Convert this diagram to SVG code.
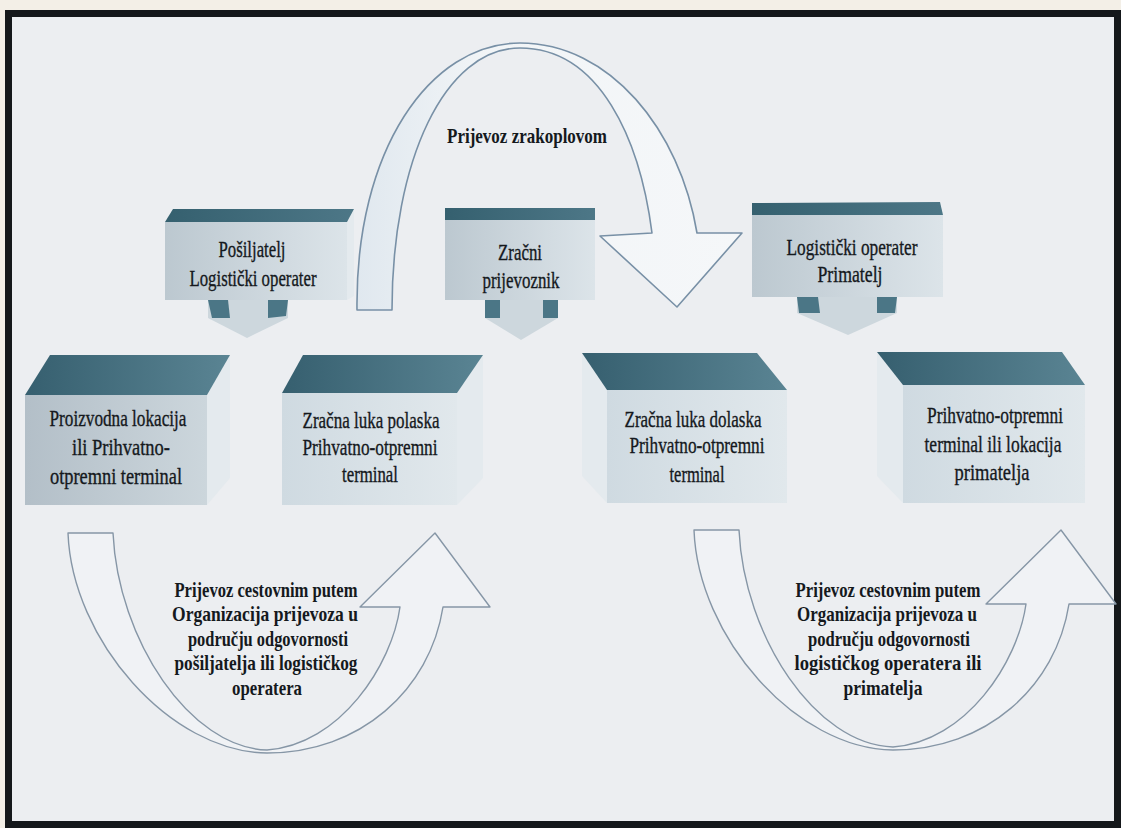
<svg xmlns="http://www.w3.org/2000/svg" width="1121" height="828" viewBox="0 0 1121 828">
<style>
.lbl{font-family:"Liberation Serif","Times New Roman",serif;font-size:23px;fill:#15191d;stroke:#15191d;stroke-width:0.35;text-anchor:middle}
.b{font-weight:bold;font-size:22px;stroke-width:0}
.arch{fill:url(#gArch);stroke:#7890a6;stroke-width:1.6;stroke-linejoin:round}
.uarr{fill:#f0f2f5;stroke:#8696a6;stroke-width:1.4;stroke-linejoin:round}
.topf{fill:url(#gTop)}
.band{fill:url(#gBand)}
.dk{fill:#4b7686}
.lt{fill:#cdd7dd}
.side{fill:#e4eaee}
</style>
<defs>
<linearGradient id="gTop" x1="0" y1="0" x2="1" y2="0">
<stop offset="0" stop-color="#365f6f"/><stop offset="1" stop-color="#5a8493"/>
</linearGradient>
<linearGradient id="gBand" x1="0" y1="0" x2="1" y2="0">
<stop offset="0" stop-color="#35606f"/><stop offset="1" stop-color="#4d7787"/>
</linearGradient>
<linearGradient id="gFrontA" x1="0" y1="0" x2="1" y2="0">
<stop offset="0" stop-color="#b3bfc8"/><stop offset="1" stop-color="#ccd6dc"/>
</linearGradient>
<linearGradient id="gFrontB" x1="0" y1="0" x2="1" y2="0">
<stop offset="0" stop-color="#cfdae1"/><stop offset="1" stop-color="#e1e8ec"/>
</linearGradient>
<linearGradient id="gFrontS" x1="0" y1="0" x2="1" y2="0">
<stop offset="0" stop-color="#bcc8d0"/><stop offset="1" stop-color="#dce4e9"/>
</linearGradient>
<linearGradient id="gArch" x1="0" y1="0" x2="1" y2="0">
<stop offset="0" stop-color="#e0e8ef"/><stop offset="0.35" stop-color="#f2f5f7"/><stop offset="1" stop-color="#f5f7f9"/>
</linearGradient>
<path id="uShape" d="M68,533 L113,533 C118,640 190,748 267,750 C340,745 392,665 400,607 L360,607 L435,533 L490,607 L443,607 C430,690 360,753 267,753 C170,752 72,640 68,533 Z"/>
</defs>

<rect x="0" y="0" width="1121" height="828" fill="#f3efe7"/>
<rect x="8.5" y="13.5" width="1109" height="811" fill="#eceef1" stroke="#15181b" stroke-width="7"/>

<g id="connectors">
<path id="air-arrow" class="arch" d="M357,310 C355,150 430,43 520,43 C610,43 680,130 697,233 L742,233 L677,307 L600,236 L652,233 C640,140 600,48 520,48 C445,48 392,160 392,310 Z"/>
<text class="lbl b" x="527" y="143" textLength="160" lengthAdjust="spacingAndGlyphs">Prijevoz zrakoplovom</text>

<use id="road-arrow-left" href="#uShape" class="uarr"/>
<g class="lbl b">
<text x="266" y="597" textLength="183" lengthAdjust="spacingAndGlyphs">Prijevoz cestovnim putem</text>
<text x="265" y="621" textLength="186" lengthAdjust="spacingAndGlyphs">Organizacija prijevoza u</text>
<text x="268" y="646" textLength="160" lengthAdjust="spacingAndGlyphs">području odgovornosti</text>
<text x="266" y="670" textLength="183" lengthAdjust="spacingAndGlyphs">pošiljatelja ili logističkog</text>
<text x="267" y="695" textLength="70" lengthAdjust="spacingAndGlyphs">operatera</text>
</g>

<use id="road-arrow-right" href="#uShape" class="uarr" transform="translate(626,-3)"/>
<g class="lbl b">
<text x="888" y="597" textLength="185" lengthAdjust="spacingAndGlyphs">Prijevoz cestovnim putem</text>
<text x="887" y="621" textLength="180" lengthAdjust="spacingAndGlyphs">Organizacija prijevoza u</text>
<text x="889" y="646" textLength="162" lengthAdjust="spacingAndGlyphs">području odgovornosti</text>
<text x="888" y="670" textLength="187" lengthAdjust="spacingAndGlyphs">logističkog operatera ili</text>
<text x="883" y="695" textLength="79" lengthAdjust="spacingAndGlyphs">primatelja</text>
</g>
</g>

<g id="node-posiljatelj">
<polygon class="lt" points="208,300 288,300 288,318 247,338 208,318"/>
<polygon class="dk" points="208,300 228,300 230,318 212,318"/>
<polygon class="dk" points="268,300 288,300 286,316 268,318"/>
<polygon class="side" points="347,222 354,210 354,296 347,300"/>
<rect x="165" y="222" width="182" height="78" fill="url(#gFrontS)"/>
<polygon class="band" points="173,209 354,209 347,222 165,222"/>
<text class="lbl" x="252" y="257" textLength="67" lengthAdjust="spacingAndGlyphs">Pošiljatelj</text>
<text class="lbl" x="253" y="286" textLength="127" lengthAdjust="spacingAndGlyphs">Logistički operater</text>
</g>

<g id="node-zracni-prijevoznik">
<polygon class="lt" points="485,300 558,300 558,318 521,340 485,318"/>
<rect class="dk" x="485" y="300" width="15" height="18"/>
<rect class="dk" x="543" y="300" width="15" height="18"/>
<rect x="445" y="220" width="150" height="80" fill="url(#gFrontS)"/>
<rect class="band" x="445" y="208" width="150" height="12"/>
<text class="lbl" x="520" y="260" textLength="44" lengthAdjust="spacingAndGlyphs">Zračni</text>
<text class="lbl" x="521" y="288" textLength="77" lengthAdjust="spacingAndGlyphs">prijevoznik</text>
</g>

<g id="node-primatelj">
<polygon class="lt" points="797,297 897,297 897,313 848,335 797,313"/>
<polygon class="dk" points="797,297 818,297 820,313 799,313"/>
<polygon class="dk" points="877,297 897,297 895,313 877,313"/>
<rect x="752" y="215" width="191" height="82" fill="url(#gFrontS)"/>
<polygon class="band" points="752,203 940,202 943,215 752,215"/>
<text class="lbl" x="852" y="255" textLength="131" lengthAdjust="spacingAndGlyphs">Logistički operater</text>
<text class="lbl" x="850" y="282" textLength="65" lengthAdjust="spacingAndGlyphs">Primatelj</text>
</g>

<g id="node-proizvodna-lokacija">
<polygon class="side" points="207,395 230,355 230,478 207,505"/>
<rect x="25" y="395" width="182" height="110" fill="url(#gFrontA)"/>
<polygon class="topf" points="50,355 230,355 207,395 25,395"/>
<text class="lbl" x="118" y="426" textLength="137" lengthAdjust="spacingAndGlyphs">Proizvodna lokacija</text>
<text class="lbl" x="121" y="455" textLength="98" lengthAdjust="spacingAndGlyphs">ili Prihvatno-</text>
<text class="lbl" x="116" y="484" textLength="132" lengthAdjust="spacingAndGlyphs">otpremni terminal</text>
</g>

<g id="node-zracna-luka-polaska">
<polygon class="side" points="457,393 483,355 483,478 457,505"/>
<rect x="282" y="393" width="175" height="112" fill="url(#gFrontB)"/>
<polygon class="topf" points="303,355 483,355 457,393 282,393"/>
<text class="lbl" x="371" y="428" textLength="137" lengthAdjust="spacingAndGlyphs">Zračna luka polaska</text>
<text class="lbl" x="370" y="455" textLength="135" lengthAdjust="spacingAndGlyphs">Prihvatno-otpremni</text>
<text class="lbl" x="370" y="482" textLength="56" lengthAdjust="spacingAndGlyphs">terminal</text>
</g>

<g id="node-zracna-luka-dolaska">
<polygon class="side" points="582,353 607,390 607,503 582,476"/>
<rect x="607" y="390" width="180" height="113" fill="url(#gFrontB)"/>
<polygon class="topf" points="582,353 757,353 787,390 607,390"/>
<text class="lbl" x="693" y="427" textLength="137" lengthAdjust="spacingAndGlyphs">Zračna luka dolaska</text>
<text class="lbl" x="697" y="453" textLength="135" lengthAdjust="spacingAndGlyphs">Prihvatno-otpremni</text>
<text class="lbl" x="697" y="482" textLength="55" lengthAdjust="spacingAndGlyphs">terminal</text>
</g>

<g id="node-lokacija-primatelja">
<polygon class="side" points="877,352 903,385 903,503 877,476"/>
<rect x="903" y="385" width="182" height="118" fill="url(#gFrontB)"/>
<polygon class="topf" points="877,352 1062,352 1085,385 903,385"/>
<text class="lbl" x="995" y="423" textLength="136" lengthAdjust="spacingAndGlyphs">Prihvatno-otpremni</text>
<text class="lbl" x="993" y="452" textLength="137" lengthAdjust="spacingAndGlyphs">terminal ili lokacija</text>
<text class="lbl" x="992" y="480" textLength="75" lengthAdjust="spacingAndGlyphs">primatelja</text>
</g>
</svg>
